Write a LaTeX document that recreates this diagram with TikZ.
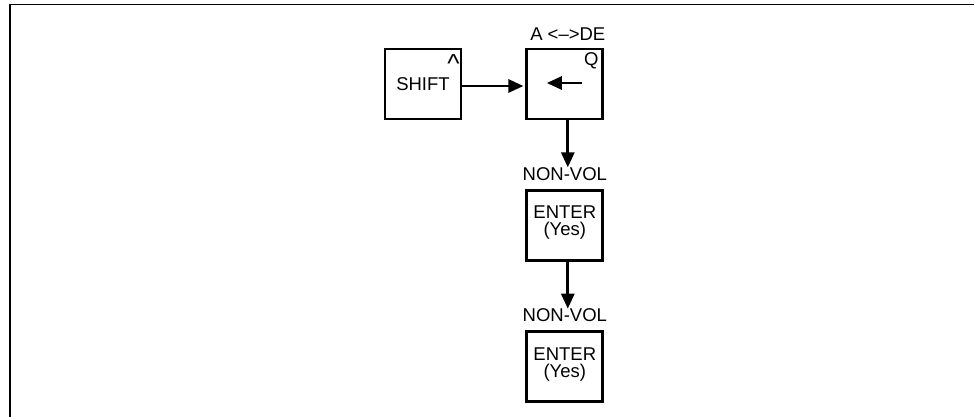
\documentclass[tikz,border=0pt]{standalone}
\usepackage{fontspec}
\setmainfont{Liberation Sans}
\usepackage{tikz}
\usetikzlibrary{arrows.meta, positioning}

\begin{document}
\begin{tikzpicture}[
  x=1pt,y=1pt,
  font=\fontsize{18.5}{17}\selectfont,
  key/.style={draw,line width=2.8pt,minimum width=76pt,minimum height=70pt,
              align=center,inner sep=0pt},
  lbl/.style={inner sep=0pt},
  arr/.style={-{Triangle[length=15pt,width=13pt]},line width=2.8pt}
]
  \useasboundingbox (0,0) rectangle (974,-417);

  % Frame
  \draw[line width=1.3pt] (10,-417) -- (10,-4.5) -- (974,-4.5);

  % Top row
  \node[key] (shift) at (423,-84) {SHIFT};
  \node[key,right=63pt of shift] (q) {};
  \node[lbl,anchor=north,font=\fontsize{26}{26}\selectfont] (shiftc)
    at ([xshift=-9pt,yshift=-7pt]shift.north east) {\textasciicircum};
  \node[lbl,anchor=north] (qq) at ([xshift=-13pt,yshift=-5pt]q.north east) {Q};
  \node[lbl,above=7pt of q,xshift=3pt] (alpha) {A <\textendash>DE};
  \coordinate (qa) at ([xshift=17pt,yshift=1pt]q.center);
  \coordinate (qb) at ([xshift=-18pt,yshift=1pt]q.center);
  \draw[arr] (qa) -- (qb);

  % Column
  \node[key,below=68.5pt of q] (e1) {\\[-9pt]ENTER\\(Yes)};
  \node[lbl,above=8pt of e1] (n1) {NON-VOL};
  \node[key,below=68.5pt of e1] (e2) {\\[-9pt]ENTER\\(Yes)};
  \node[lbl,above=8pt of e2] (n2) {NON-VOL};

  % Arrows
  \draw[arr,shorten >=2pt] ([yshift=-2pt]shift.east) -- ([yshift=-2pt]q.west);
  \draw[arr] ([xshift=3pt]q.south) -- ([xshift=3pt]n1.north);
  \draw[arr] ([xshift=3pt]e1.south) -- ([xshift=3pt]n2.north);
\end{tikzpicture}
\end{document}
